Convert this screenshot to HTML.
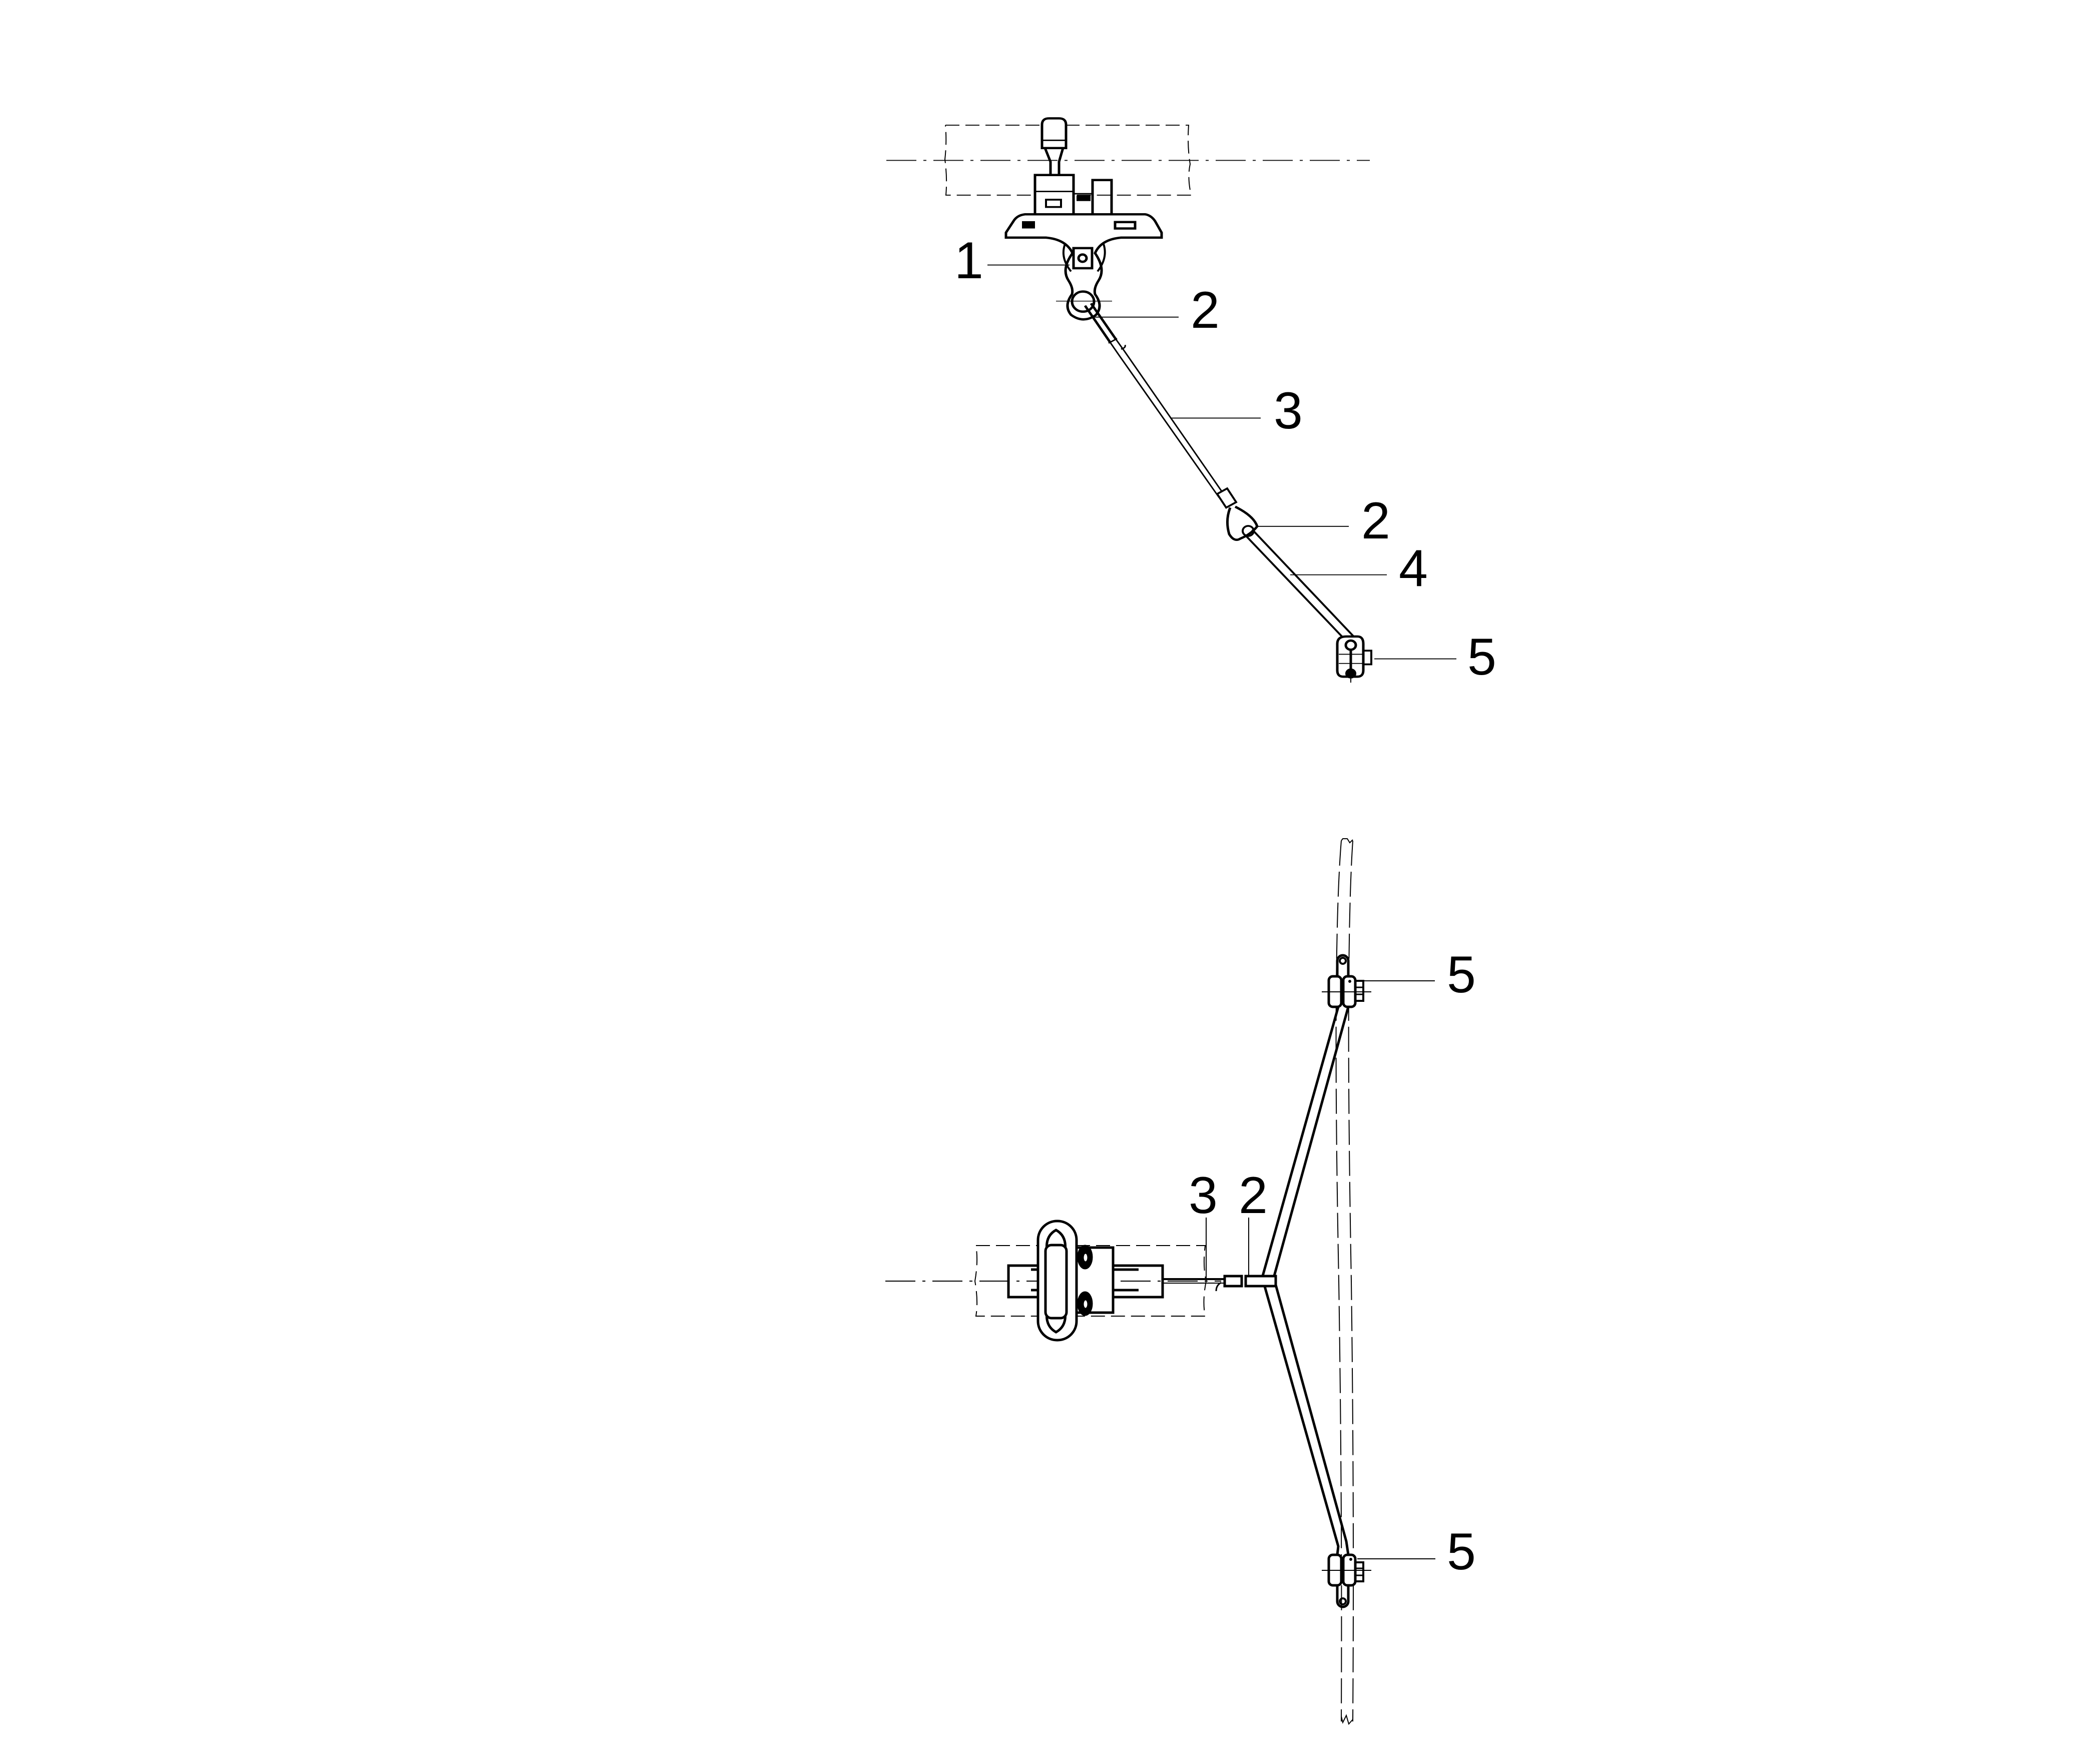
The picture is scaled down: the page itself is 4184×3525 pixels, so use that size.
<!DOCTYPE html>
<html><head><meta charset="utf-8"><style>
html,body{margin:0;padding:0;background:#fff;}
svg{display:block;}
text{font-family:"Liberation Sans",sans-serif;font-size:104px;fill:#000;}
</style></head><body>
<svg width="4184" height="3525" viewBox="0 0 4184 3525" xmlns="http://www.w3.org/2000/svg">
<g fill="none" stroke="#000" transform="translate(0,200) scale(1,0.913) translate(0,-200)">
<!-- TOP VIEW -->
<path d="M1889 255 L2375 255 Q2372 300 2378 340 Q2372 370 2380 408 L1890 408 Q1893 370 1888 330 Q1892 290 1889 255" stroke-width="2" stroke-dasharray="28 12"/>
<line x1="1771" y1="332" x2="2737" y2="332" stroke-width="2" stroke-dasharray="60 14 6 14"/>
<path d="M2082 305 L2082 254 Q2082 240 2096 240 L2116 240 Q2130 240 2130 254 L2130 305 Z" fill="#fff" stroke-width="5"/>
<line x1="2082" y1="288" x2="2130" y2="288" stroke-width="3"/>
<path d="M2088 305 L2099 335 L2099 364 M2124 305 L2116 335 L2116 364" stroke-width="5"/>
<rect x="2068" y="364" width="77" height="86" fill="#fff" stroke-width="5"/>
<line x1="2068" y1="400" x2="2145" y2="400" stroke-width="3"/>
<rect x="2090" y="418" width="30" height="16" stroke-width="4"/>
<rect x="2183" y="375" width="38" height="75" stroke-width="5"/>
<rect x="2152" y="410" width="26" height="10" fill="#000" stroke-width="2"/>
<line x1="2145" y1="405" x2="2183" y2="405" stroke-width="3"/>
<path d="M2048 450 L2288 450 Q2300 452 2308 465 L2321 490 L2321 501 L2240 501 Q2200 505 2188 535 Q2210 570 2195 595 Q2185 612 2188 625 Q2205 650 2190 670 Q2165 690 2140 670 Q2125 650 2142 625 Q2145 612 2135 595 Q2120 570 2143 535 Q2130 505 2090 501 L2010 501 L2010 490 L2025 465 Q2032 452 2048 450 Z" fill="#fff" stroke-width="5"/>
<rect x="2043" y="466" width="24" height="14" fill="#000" stroke-width="2"/>
<rect x="2228" y="467" width="40" height="14" stroke-width="5"/>
<path d="M2128 515 Q2118 545 2140 575 M2205 515 Q2214 545 2193 575" stroke-width="4"/>
<circle cx="2164" cy="641" r="22" stroke-width="5"/>
<rect x="2145" y="524" width="37" height="44" stroke-width="5"/>
<circle cx="2163" cy="546" r="8" stroke-width="5"/>
<line x1="2110" y1="640" x2="2222" y2="640" stroke-width="1.5"/>
<line x1="1973" y1="561" x2="2137" y2="561" stroke-width="2"/>
<path d="M2168 650 L2218 730 M2180 645 L2230 724" stroke-width="5"/>
<path d="M2218 730 L2235 757 M2230 724 L2247 750" stroke-width="3"/>
<line x1="2215" y1="732" x2="2232" y2="722" stroke-width="3"/>
<path d="M2240 745 Q2250 742 2248 736" stroke-width="3"/>
<path d="M2235 757 L2436 1070 M2247 750 L2446 1064" stroke-width="3"/>
<path d="M2432 1062 L2452 1050 L2470 1080 L2450 1092 Z" fill="#fff" stroke-width="4"/>
<path d="M2458 1092 Q2448 1120 2456 1150 Q2466 1168 2478 1160 Q2500 1150 2512 1133 Q2505 1110 2468 1090" fill="#fff" stroke-width="5"/>
<circle cx="2494" cy="1143" r="11" stroke-width="4"/>
<path d="M2488 1152 L2697 1392 M2502 1140 L2710 1380" stroke-width="4"/>
<path d="M2672 1390 Q2672 1374 2690 1374 L2712 1374 Q2724 1374 2724 1390 L2724 1448 Q2724 1462 2712 1462 L2684 1462 Q2672 1462 2672 1448 Z" fill="#fff" stroke-width="5"/>
<circle cx="2699" cy="1393" r="10" stroke-width="5"/>
<line x1="2699" y1="1403" x2="2699" y2="1452" stroke-width="5"/>
<circle cx="2699" cy="1455" r="10" fill="#000" stroke-width="2"/>
<line x1="2675" y1="1413" x2="2722" y2="1413" stroke-width="2"/>
<line x1="2675" y1="1433" x2="2722" y2="1433" stroke-width="2"/>
<rect x="2724" y="1405" width="16" height="30" stroke-width="4"/>
<line x1="2699" y1="1462" x2="2699" y2="1475" stroke-width="2"/>
<line x1="2187" y1="675" x2="2355" y2="675" stroke-width="2"/>
<line x1="2338" y1="896" x2="2519" y2="896" stroke-width="2"/>
<line x1="2510" y1="1133" x2="2695" y2="1133" stroke-width="2"/>
<line x1="2578" y1="1239" x2="2771" y2="1239" stroke-width="2"/>
<line x1="2746" y1="1423" x2="2910" y2="1423" stroke-width="2"/>
</g>
<g fill="none" stroke="#000">
<!-- BOTTOM VIEW -->
<path d="M2680 1680 Q2662 1900 2675 2560 Q2682 3000 2680 3440" stroke-width="2" stroke-dasharray="50 12"/>
<path d="M2703 1680 Q2688 1900 2700 2560 Q2706 3000 2703 3440" stroke-width="2" stroke-dasharray="50 12"/>
<path d="M2680 1680 L2683 1676 L2692 1676 L2697 1684 L2703 1678" stroke-width="2"/>
<path d="M2680 3430 L2683 3442 L2690 3428 L2695 3445 L2703 3436" stroke-width="2"/>
<path d="M2674 2012 L2522 2553 L2674 3090 L2672 3107" stroke-width="5"/>
<path d="M2694 2012 L2545 2553 L2690 3080 L2694 3107" stroke-width="5"/>
<path d="M2672 1950 L2672 1920 A11 11 0 0 1 2694 1920 L2694 1950" stroke-width="5"/>
<circle cx="2683" cy="1920" r="6" stroke-width="4"/>
<rect x="2655" y="1951" width="25" height="61" rx="8" fill="#fff" stroke-width="5"/>
<rect x="2684" y="1951" width="24" height="61" rx="8" fill="#fff" stroke-width="5"/>
<rect x="2708" y="1960" width="16" height="40" stroke-width="4"/>
<line x1="2708" y1="1973" x2="2724" y2="1973" stroke-width="3"/>
<line x1="2708" y1="1987" x2="2724" y2="1987" stroke-width="3"/>
<line x1="2641" y1="1982" x2="2740" y2="1982" stroke-width="2"/>
<line x1="2712" y1="1960" x2="2867" y2="1960" stroke-width="2"/>
<circle cx="2697" cy="1961" r="2.5" fill="#000" stroke-width="1"/>
<path d="M2672 3168 L2672 3200 A11 11 0 0 0 2694 3200 L2694 3168" stroke-width="5"/>
<circle cx="2683" cy="3200" r="6" stroke-width="4"/>
<rect x="2655" y="3107" width="25" height="61" rx="8" fill="#fff" stroke-width="5"/>
<rect x="2684" y="3107" width="24" height="61" rx="8" fill="#fff" stroke-width="5"/>
<rect x="2708" y="3122" width="16" height="38" stroke-width="4"/>
<line x1="2708" y1="3134" x2="2724" y2="3134" stroke-width="3"/>
<line x1="2708" y1="3148" x2="2724" y2="3148" stroke-width="3"/>
<line x1="2641" y1="3138" x2="2740" y2="3138" stroke-width="2"/>
<line x1="2712" y1="3115" x2="2868" y2="3115" stroke-width="2"/>
<circle cx="2699" cy="3116" r="2.5" fill="#000" stroke-width="1"/>
<path d="M1950 2489 L2408 2489 Q2403 2530 2410 2560 Q2402 2600 2408 2630 L1950 2630 Q1955 2600 1948 2560 Q1955 2520 1950 2489" stroke-width="2" stroke-dasharray="28 12"/>
<line x1="1769" y1="2560" x2="2440" y2="2560" stroke-width="2" stroke-dasharray="60 14 6 14"/>
<rect x="2015" y="2529" width="308" height="63" fill="none" stroke-width="5"/>
<rect x="2149" y="2493" width="75" height="130" fill="#fff" stroke-width="5"/>
<line x1="2224" y1="2537" x2="2275" y2="2537" stroke-width="5"/>
<line x1="2224" y1="2578" x2="2275" y2="2578" stroke-width="5"/>
<line x1="2060" y1="2537" x2="2074" y2="2537" stroke-width="5"/>
<line x1="2060" y1="2578" x2="2074" y2="2578" stroke-width="5"/>
<rect x="2074" y="2440" width="77" height="238" rx="38" fill="#fff" stroke-width="5"/>
<path d="M2110 2458 Q2088 2470 2092 2500 L2092 2620 Q2088 2650 2110 2662 Q2132 2650 2128 2620 L2128 2500 Q2132 2470 2110 2458 Z" stroke-width="5"/>
<rect x="2089" y="2488" width="42" height="146" rx="12" fill="#fff" stroke-width="5"/>
<ellipse cx="2168" cy="2512" rx="15" ry="24" fill="#000"/>
<ellipse cx="2169" cy="2513" rx="4" ry="8" fill="#fff"/>
<ellipse cx="2168" cy="2605" rx="15" ry="24" fill="#000"/>
<ellipse cx="2169" cy="2606" rx="4" ry="8" fill="#fff"/>
<line x1="2323" y1="2556" x2="2447" y2="2556" stroke-width="4"/>
<line x1="2323" y1="2564" x2="2447" y2="2564" stroke-width="2"/>
<path d="M2440 2563 Q2430 2568 2430 2580" stroke-width="3"/>
<rect x="2447" y="2550" width="34" height="20" fill="#fff" stroke-width="5"/>
<rect x="2489" y="2550" width="60" height="20" fill="#fff" stroke-width="5"/>
<line x1="2410" y1="2433" x2="2410" y2="2560" stroke-width="2"/>
<line x1="2495" y1="2433" x2="2495" y2="2552" stroke-width="2"/>
</g>
<g>
<text x="1907" y="556">1</text>
<text x="2379" y="655">2</text>
<text x="2545" y="856">3</text>
<text x="2720" y="1076">2</text>
<text x="2795" y="1171">4</text>
<text x="2932" y="1348">5</text>
<text x="2891" y="1983">5</text>
<text x="2891" y="3136">5</text>
<text x="2375" y="2424">3</text>
<text x="2475" y="2424">2</text>
</g>
</svg>
</body></html>
